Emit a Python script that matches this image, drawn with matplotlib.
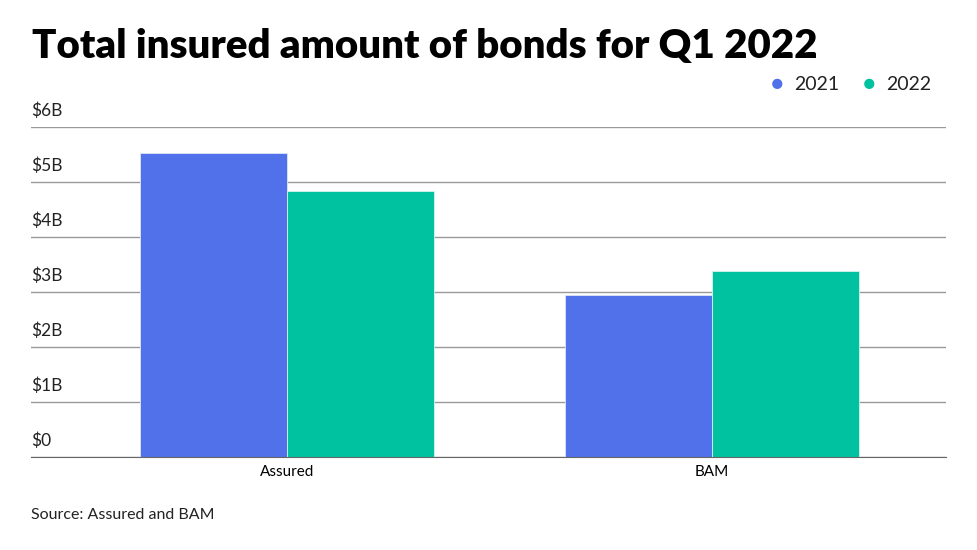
import matplotlib.pyplot as plt
import numpy as np

# data
categories = ['Assured', 'BAM']
series_names = ['2021', '2022']
values_2021 = [5.52, 2.94]
values_2022 = [4.83, 3.38]
yticks = [0, 1, 2, 3, 4, 5, 6]
ytick_labels = ['$0', '$1B', '$2B', '$3B', '$4B', '$5B', '$6B']

colors = ['#5171EA', '#00C1A0']

plt.rcParams['font.family'] = ['Lato', 'DejaVu Sans']

fig = plt.figure(figsize=(9.78, 5.5), dpi=100)
ax = fig.add_axes([0.0317, 0.169, 0.936, 0.6])

x = np.arange(len(categories))
w = 0.346
ax.bar(x - w / 2, values_2021, w, color=colors[0], edgecolor='#dfe6fb', linewidth=0.6, zorder=3)
ax.bar(x + w / 2, values_2022, w, color=colors[1], edgecolor='#d6f5ee', linewidth=0.6, zorder=3)

ax.set_xlim(-0.602, 1.551)
ax.set_ylim(0, 6)
ax.set_xticks(x)
ax.set_xticklabels(categories, fontsize=11)
ax.tick_params(axis='x', length=0, pad=6)
ax.set_yticks(yticks)
ax.set_yticklabels([])
ax.tick_params(axis='y', length=0)
ax.grid(axis='y', color='#999999', linewidth=1, zorder=0)
for s in ['top', 'right', 'left']:
    ax.spines[s].set_visible(False)
ax.spines['bottom'].set_color('#666666')
ax.spines['bottom'].set_zorder(4)

# y labels sit above the gridlines
for v, lab in zip(yticks, ytick_labels):
    ax.annotate(lab, xy=(0, v), xycoords=('axes fraction', 'data'),
                xytext=(0, 6), textcoords='offset points',
                ha='left', va='bottom', fontsize=12.5, color='#222222')

fig.text(0.033, 0.915, 'Total insured amount of bonds for Q1 2022',
         fontsize=29, fontweight='heavy', ha='left', va='center', color='black')

# legend
fig.text(0.7945, 0.847, '●', fontsize=15, color=colors[0], ha='center', va='center')
fig.text(0.8125, 0.847, series_names[0], fontsize=14, ha='left', va='center', color='#222222')
fig.text(0.8885, 0.847, '●', fontsize=15, color=colors[1], ha='center', va='center')
fig.text(0.9065, 0.847, series_names[1], fontsize=14, ha='left', va='center', color='#222222')

fig.text(0.032, 0.064, 'Source: Assured and BAM', fontsize=11.5, ha='left', va='center', color='#222222')

fig.savefig('out.png', dpi=100)
